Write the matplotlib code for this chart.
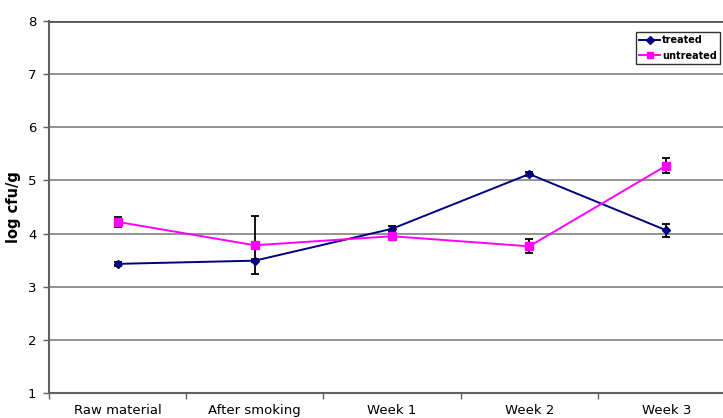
import matplotlib
matplotlib.use("Agg")
import matplotlib.pyplot as plt
from matplotlib.lines import Line2D
import numpy as np

categories = ["Raw material", "After smoking", "Week 1", "Week 2", "Week 3"]
treated = [3.43, 3.49, 4.09, 5.12, 4.06]
treated_err = [0.04, 0.03, 0.05, 0.04, 0.12]
untreated = [4.22, 3.78, 3.95, 3.76, 5.28]
untreated_err = [0.09, 0.55, 0.05, 0.13, 0.14]
yticks = [1, 2, 3, 4, 5, 6, 7, 8]

fig = plt.figure(figsize=(7.23, 4.18), dpi=100)
W, H = 723, 418
x0, x1, ytop, ybot = 49, 735, 21, 393
ax = fig.add_axes([x0 / W, 1 - ybot / H, (x1 - x0) / W, (ybot - ytop) / H])

x = np.arange(len(categories)) + 0.5
ax.set_xlim(0, len(categories))
ax.set_ylim(1, 8)

for yv in yticks[1:]:
    ax.axhline(yv, color="#808080", lw=1.2, zorder=1)
ax.axhline(8, color="#555555", lw=2.0, zorder=1)

ax.errorbar(x, treated, yerr=treated_err, color="#000080", marker="D", ms=4.5,
            lw=1.4, ecolor="black", elinewidth=1.3, capsize=3, capthick=1.3,
            zorder=3)
ax.errorbar(x, untreated, yerr=untreated_err, color="#FF00FF", marker="s", ms=6,
            lw=1.4, ecolor="black", elinewidth=1.3, capsize=3, capthick=1.3,
            zorder=3)

for s in ["top", "right"]:
    ax.spines[s].set_visible(False)
ax.spines["left"].set_color("#606060")
ax.spines["left"].set_linewidth(1.5)
ax.spines["bottom"].set_color("#606060")
ax.spines["bottom"].set_linewidth(1.5)

ax.set_yticks(yticks)
ax.set_yticklabels([str(v) for v in yticks], fontsize=9.5)
ax.tick_params(axis="y", direction="out", length=4, width=1, color="#606060", pad=5)

ax.set_xticks(np.arange(0, len(categories) + 1))
ax.set_xticklabels([])
ax.set_xticks(x, minor=True)
ax.set_xticklabels(categories, minor=True, fontsize=9.5)
ax.tick_params(axis="x", which="major", direction="out", length=4, width=1, color="#606060")
ax.tick_params(axis="x", which="minor", length=0, pad=8)

ax.set_ylabel("log cfu/g", fontsize=10.5, fontweight="bold", labelpad=5)

handles = [
    Line2D([], [], color="#000080", marker="D", ms=4, lw=1.4, label="treated"),
    Line2D([], [], color="#FF00FF", marker="s", ms=5, lw=1.4, label="untreated"),
]
leg = fig.legend(handles=handles, loc="upper left",
                 bbox_to_anchor=(636 / W, 1 - 32 / H),
                 prop={"weight": "bold", "size": 7}, frameon=True,
                 fancybox=False, edgecolor="black", handlelength=2.2,
                 borderpad=0.3, labelspacing=0.6, handletextpad=0.2,
                 borderaxespad=0)
leg.get_frame().set_linewidth(1.0)

fig.savefig("out.png", dpi=100)
